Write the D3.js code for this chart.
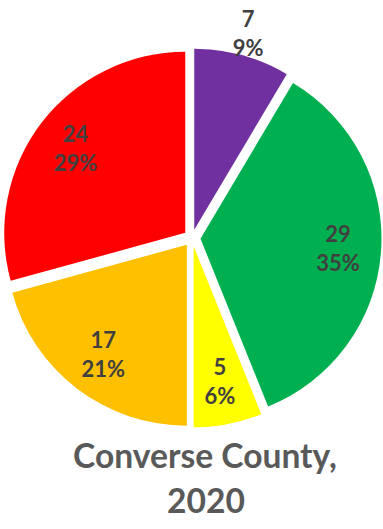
<!DOCTYPE html>
<html>
<head>
<meta charset="utf-8">
<script src="https://cdn.jsdelivr.net/npm/d3@7"></script>
<style>
  html, body { margin: 0; padding: 0; background: #ffffff; }
  svg { display: block; }
</style>
</head>
<body>
<svg id="chart" width="383" height="529"></svg>
<script>
// ---- data ----
const categories = ["Purple", "Green", "Yellow", "Orange", "Red"];
const values = [7, 29, 5, 17, 24];
const percentLabels = ["9%", "35%", "6%", "21%", "29%"];
const titleLines = ["Converse County,", "2020"];

// ---- style config ----
const colors = ["#7030A0", "#00B050", "#FFFF00", "#FFC000", "#FF0000"];
const labelPlacement = ["outside", "inside", "inside", "inside", "inside"];

const W = 383, H = 529;
const cx = 192, cy = 238;
const R = 181;
const explode = 8.5;
const labelFont = "Lato, 'Open Sans', sans-serif";

const svg = d3.select("#chart");

const pie = d3.pie().sort(null).value(d => d)(values);
const arc = d3.arc().innerRadius(0).outerRadius(R);
const insideArc = d3.arc().innerRadius(138).outerRadius(138);
const outsideArc = d3.arc().innerRadius(203).outerRadius(203);

const g = svg.append("g").attr("transform", `translate(${cx},${cy})`);

const slices = g.selectAll("g.slice").data(pie).enter().append("g")
  .attr("class", "slice")
  .attr("transform", d => {
    const a = (d.startAngle + d.endAngle) / 2;
    return `translate(${explode * Math.sin(a)},${-explode * Math.cos(a)})`;
  });

slices.append("path")
  .attr("d", arc)
  .attr("fill", (d, i) => colors[i]);

const labels = slices.append("text")
  .attr("transform", (d, i) => {
    const c = (labelPlacement[i] === "outside" ? outsideArc : insideArc).centroid(d);
    return `translate(${c[0]},${c[1]})`;
  })
  .attr("text-anchor", "middle")
  .attr("font-family", labelFont)
  .attr("font-weight", "bold")
  .attr("font-size", 22)
  .attr("fill", "#404040");

labels.append("tspan").attr("x", 0).attr("y", -7)
  .text((d, i) => values[i]);
labels.append("tspan").attr("x", 0).attr("y", 22)
  .text((d, i) => percentLabels[i]);

// ---- title ----
const title = svg.append("text")
  .attr("text-anchor", "middle")
  .attr("font-family", labelFont)
  .attr("font-weight", "bold")
  .attr("font-size", 33)
  .attr("fill", "#595959");
title.append("tspan").attr("x", 205).attr("y", 468).text(titleLines[0]);
title.append("tspan").attr("x", 206).attr("y", 513).text(titleLines[1]);

// fit title width to reference (~264px for first line)
const t1 = title.select("tspan").node();
const wNow = t1.getComputedTextLength();
if (wNow > 0) {
  const fs = 33 * 264 / wNow;
  title.attr("font-size", Math.min(38, Math.max(28, fs)));
}
</script>
</body>
</html>
